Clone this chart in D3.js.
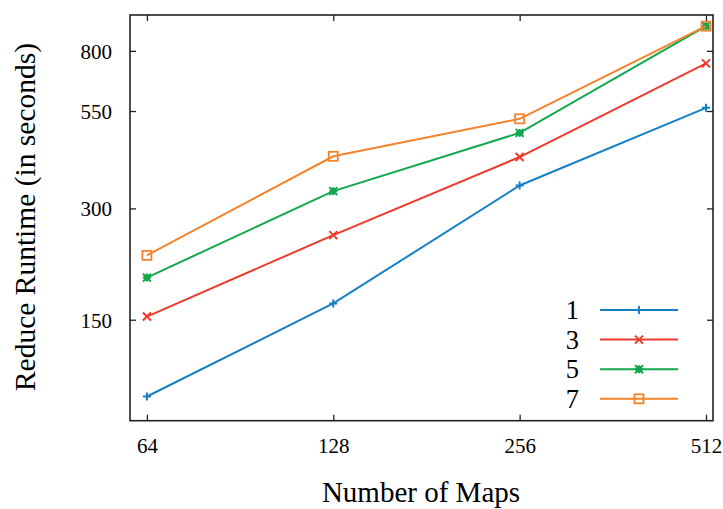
<!DOCTYPE html>
<html><head><meta charset="utf-8">
<script src="https://cdn.jsdelivr.net/npm/d3@7"></script>
<style>body{margin:0;background:#fff}svg{display:block}</style>
</head><body><svg id="c" width="723" height="509" font-family="Liberation Serif"></svg>
<script>
const mapCounts = [64, 128, 256, 512];
const seriesNames = ["1", "3", "5", "7"];
const s1 = [93, 166, 346, 561];
const s3 = [153, 254, 413, 740];
const s5 = [195, 334, 480, 933];
const s7 = [224, 415, 524, 933];
const yTicks = [150, 300, 550, 800];
const colors = ["#1680c6", "#ee3a2c", "#12a84d", "#f3822a"];
const markers = ["plus", "cross", "star", "square"];
const seriesValues = [s1, s3, s5, s7];

const FONT = "Liberation Serif";
const svg = d3.select("#c");
const L = 130, R = 713, T = 15, B = 420.7;
const x = d3.scaleLog().base(2).domain([60.1, 525.5]).range([L, R]);
const y = d3.scaleLog().domain([80, 1000]).range([B, T]);

const axisColor = "#222";
const g = svg.append("g");
const xb = g.append("g").attr("transform", `translate(0,${B})`)
  .call(d3.axisBottom(x).tickValues(mapCounts).tickFormat(d3.format("d")).tickSize(-6).tickPadding(18));
const xt = g.append("g").attr("transform", `translate(0,${T})`)
  .call(d3.axisTop(x).tickValues(mapCounts).tickFormat("").tickSize(-6));
const yl = g.append("g").attr("transform", `translate(${L},0)`)
  .call(d3.axisLeft(y).tickValues(yTicks).tickFormat(d3.format("d")).tickSize(-6).tickPadding(18));
const yr = g.append("g").attr("transform", `translate(${R},0)`)
  .call(d3.axisRight(y).tickValues(yTicks).tickFormat("").tickSize(-6));
[xb, xt, yl, yr].forEach(a => {
  a.attr("font-family", FONT).attr("font-size", 21);
  a.select(".domain").remove();
  a.selectAll(".tick line").attr("stroke", axisColor).attr("stroke-width", 1.3);
  a.selectAll(".tick text").attr("font-family", FONT).attr("font-size", 21).attr("fill", "#000");
});
yl.selectAll(".tick text").attr("dy", "0.35em");
xb.selectAll(".tick text").attr("dy", "0.7em");
svg.append("rect").attr("x", L).attr("y", T).attr("width", R - L).attr("height", B - T)
  .attr("fill", "none").attr("stroke", axisColor).attr("stroke-width", 1.6);

function drawMarker(sel, type, cx, cy, color) {
  const s = 4;
  if (type === "plus") {
    sel.append("path").attr("d", `M${cx-s},${cy}H${cx+s}M${cx},${cy-s}V${cy+s}`).attr("stroke", color).attr("stroke-width", 2).attr("fill", "none");
  } else if (type === "cross") {
    sel.append("path").attr("d", `M${cx-s},${cy-s}L${cx+s},${cy+s}M${cx-s},${cy+s}L${cx+s},${cy-s}`).attr("stroke", color).attr("stroke-width", 2).attr("fill", "none");
  } else if (type === "star") {
    sel.append("path").attr("d", `M${cx-s},${cy-s}L${cx+s},${cy+s}M${cx-s},${cy+s}L${cx+s},${cy-s}M${cx-s},${cy}H${cx+s}M${cx},${cy-s}V${cy+s}`).attr("stroke", color).attr("stroke-width", 2).attr("fill", "none");
    sel.append("rect").attr("x", cx-3).attr("y", cy-3).attr("width", 6).attr("height", 6).attr("fill", color);
  } else {
    sel.append("rect").attr("x", cx-4.5).attr("y", cy-4.5).attr("width", 9).attr("height", 9).attr("fill", "none").attr("stroke", color).attr("stroke-width", 1.8);
  }
}

const line = d3.line().x((d, i) => x(mapCounts[i])).y(d => y(d));
seriesValues.forEach((vals, k) => {
  const sg = svg.append("g");
  sg.append("path").attr("d", line(vals)).attr("fill", "none").attr("stroke", colors[k]).attr("stroke-width", 2);
  vals.forEach((v, i) => drawMarker(sg, markers[k], x(mapCounts[i]), y(v), colors[k]));
});

const legY0 = 310, legDy = 29.6;
seriesNames.forEach((n, k) => {
  const ly = legY0 + k * legDy;
  svg.append("text").attr("x", 579).attr("y", ly).attr("dy", "0.35em").attr("text-anchor", "end")
    .attr("font-family", FONT).attr("font-size", 26.5).text(n);
  svg.append("line").attr("x1", 600).attr("x2", 678).attr("y1", ly).attr("y2", ly).attr("stroke", colors[k]).attr("stroke-width", 2);
  drawMarker(svg, markers[k], 639, ly, colors[k]);
});

svg.append("text").attr("x", 421).attr("y", 502).attr("text-anchor", "middle")
  .attr("font-family", FONT).attr("font-size", 29).text("Number of Maps");
svg.append("text").attr("transform", `translate(35,217) rotate(-90)`).attr("text-anchor", "middle")
  .attr("font-family", FONT).attr("font-size", 29.5).text("Reduce Runtime (in seconds)");
</script></body></html>
